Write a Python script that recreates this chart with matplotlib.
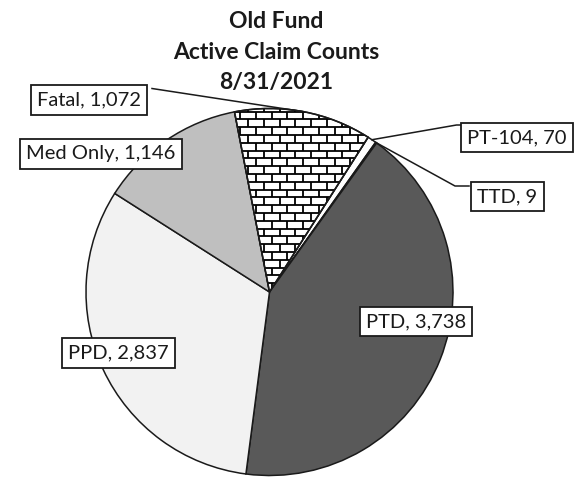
import numpy as np
import matplotlib
matplotlib.use("Agg")
import matplotlib.pyplot as plt
from matplotlib.collections import LineCollection
from matplotlib.patches import Wedge

plt.rcParams['font.family'] = ['Lato', 'DejaVu Sans']

# data
categories = ['PT-104', 'TTD', 'PTD', 'PPD', 'Med Only', 'Fatal']
counts = [70, 9, 3738, 2837, 1146, 1072]
colors = ['white', 'white', '#595959', '#f2f2f2', '#bfbfbf', 'white']
title_lines = ['Old Fund', 'Active Claim Counts', '8/31/2021']

# layout in image pixels
W, H = 575, 479
cx, cy, r = 269.5, 292.0, 183.5
start = 57.5


def px(x, y):
    # image pixel -> data coords (pie radius = 1)
    return (x - cx) / r, (cy - y) / r


fig = plt.figure(figsize=(W / 100, H / 100), dpi=100)
ax = fig.add_axes([0, 0, 1, 1])

wedges, _ = ax.pie(counts, colors=colors, startangle=start, counterclock=False,
                   radius=1, center=(0, 0), frame=True,
                   wedgeprops=dict(edgecolor='#1a1a1a', linewidth=1.1))
ax.set_xlim(px(0, 0)[0], px(W, 0)[0])
ax.set_ylim(px(0, H)[1], px(0, 0)[1])
ax.axis('off')

# brick pattern for the Fatal slice
row_h = 7.8 / r
brick_w = 15.7 / r
segs = []
ys = np.arange(-1.1, 1.1, row_h)
for i, y0 in enumerate(ys):
    segs.append([(-1.1, y0), (1.1, y0)])
    off = 0 if i % 2 == 0 else brick_w / 2
    for x0 in np.arange(-1.1 + off, 1.1, brick_w):
        segs.append([(x0, y0), (x0, y0 + row_h)])
lc = LineCollection(segs, colors='black', linewidths=1.3, zorder=3)
lc.set_clip_path(wedges[-1])
ax.add_collection(lc)
# redraw fatal outline on top of the bricks
ax.add_patch(Wedge((0, 0), 1, wedges[-1].theta1, wedges[-1].theta2,
                   fill=False, edgecolor='#1a1a1a', linewidth=1.1, zorder=4))

# wedge angles
fracs = np.array(counts) / sum(counts)
edges = start - 360 * np.concatenate([[0], np.cumsum(fracs)])
mids = (edges[:-1] + edges[1:]) / 2


def on_pie(angle):
    a = np.deg2rad(angle)
    return np.cos(a), np.sin(a)


# labels: box centre in pixels
label_pos = {
    'PT-104': (517, 137.5),
    'TTD': (507.5, 196.5),
    'PTD': (416, 321.5),
    'PPD': (118.5, 353),
    'Med Only': (101, 154),
    'Fatal': (89, 100),
}
for name, val in zip(categories, counts):
    x, y = px(*label_pos[name])
    ax.text(x, y, f'{name}, {val:,}', ha='center', va='center', fontsize=14.5,
            color='#1a1a1a', zorder=6,
            bbox=dict(boxstyle='square,pad=0.3', fc='white', ec='#1a1a1a', lw=1.3))

# leader lines
lead_kw = dict(color='#1a1a1a', lw=1.1, zorder=5)
p = on_pie(mids[-1])
q = px(152, 88.5)
ax.plot([q[0], p[0]], [q[1], p[1]], **lead_kw)
p = on_pie(mids[0])
a, b = px(456.5, 125), px(461, 125)
ax.plot([p[0], a[0], b[0]], [p[1], a[1], b[1]], **lead_kw)
p = on_pie(mids[1])
a, b = px(455, 186), px(469, 186)
ax.plot([p[0], a[0], b[0]], [p[1], a[1], b[1]], **lead_kw)

# title
for line, base in zip(title_lines, [28.5, 59.3, 88.5]):
    fig.text(276.5 / W, 1 - base / H, line, ha='center', va='baseline',
             fontsize=16.5, fontweight='bold', color='#1a1a1a')

fig.savefig('out.png', dpi=100, facecolor='white')
